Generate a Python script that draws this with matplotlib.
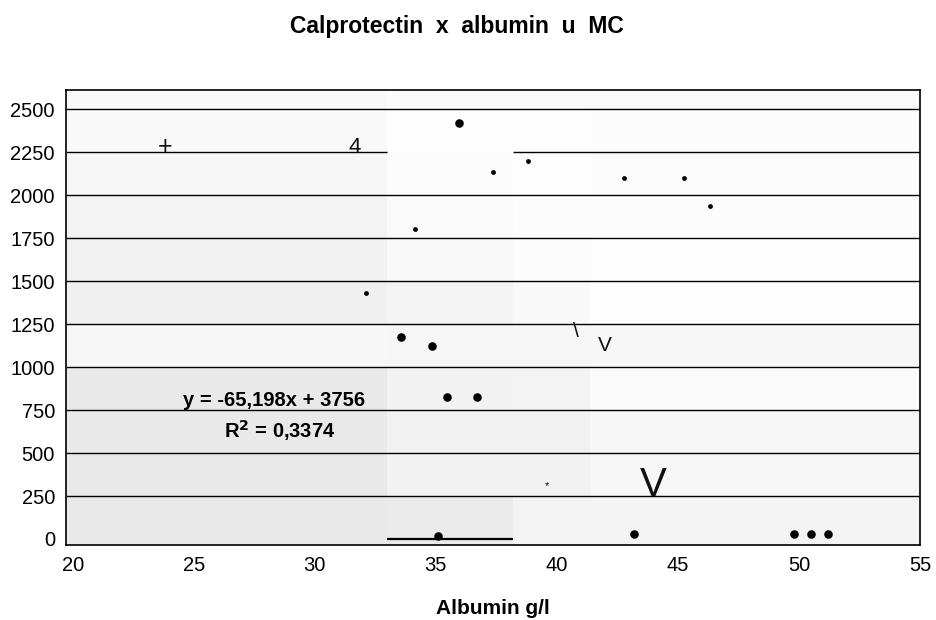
import numpy as np
import matplotlib
matplotlib.use('Agg')
import matplotlib.pyplot as plt

plt.rcParams['font.family'] = ['Liberation Sans', 'DejaVu Sans']

# ============= data ===============================================
# albumin (g/l) vs calprotectin, larger markers
big_x = [35.95, 33.57, 34.86, 35.47, 36.69, 35.07, 43.18, 49.81, 50.50, 51.19]
big_y = [2420, 1177, 1121, 824, 824, 20, 30, 30, 30, 30]
# smaller markers
small_x = [38.80, 37.35, 42.79, 45.26, 46.32, 34.15, 32.10]
small_y = [2197, 2133, 2098, 2098, 1935, 1803, 1431]

# stray glyphs that show up in the original export
annot_text = ['+', '4', '\\', 'V', 'V', '*']
annot_x = [23.83, 31.65, 40.79, 42.0, 43.97, 39.57]
annot_y = [2279, 2279, 1206, 1123, 314, 310]
annot_size = [18, 16, 15, 15, 29, 8]

equation = 'y = -65,198x + 3756'
r_squared = 'R$^{\\mathbf{2}}$ = 0,3374'

x_ticks = [20, 25, 30, 35, 40, 45, 50, 55]
y_ticks = [0, 250, 500, 750, 1000, 1250, 1500, 1750, 2000, 2250, 2500]

# background shading, banded by gridline and by column
col_edges = [19.72, 32.97, 38.2, 41.36, 55]
row_edges = [-35, 250, 500, 750, 1000, 1250, 1500, 1750, 2000, 2250, 2500, 2612]
shade = np.array([
    [0.912, 0.915, 0.953, 0.957],
    [0.912, 0.949, 0.949, 0.965],
    [0.912, 0.945, 0.945, 0.965],
    [0.912, 0.949, 0.953, 0.980],
    [0.965, 0.962, 0.962, 0.965],
    [0.940, 0.957, 0.976, 0.992],
    [0.945, 0.976, 0.988, 0.992],
    [0.953, 0.980, 0.988, 0.988],
    [0.965, 0.988, 0.992, 0.988],
    [0.976, 0.992, 0.992, 0.988],
    [0.976, 0.984, 0.984, 0.980],
])

fig = plt.figure(figsize=(9.36, 6.2), dpi=100)
ax = fig.add_axes([66 / 936, 75 / 620, 854 / 936, 455 / 620])

ax.pcolormesh(col_edges, row_edges, shade, cmap='gray', vmin=0, vmax=1,
              shading='flat', zorder=0)

# gridlines (the 2250 one has a gap, the 0 one is only a stub)
for yv in y_ticks:
    if yv == 0:
        ax.hlines(yv, col_edges[1], col_edges[2], color='black', lw=1.6, zorder=1)
    elif yv == 2250:
        ax.hlines(yv, col_edges[0], col_edges[1], color='black', lw=1.0, zorder=1)
        ax.hlines(yv, col_edges[2], col_edges[4], color='black', lw=1.0, zorder=1)
    else:
        ax.hlines(yv, col_edges[0], col_edges[4], color='black', lw=1.0, zorder=1)

ax.scatter(big_x, big_y, s=38, color='black', zorder=3, linewidths=0)
ax.scatter(small_x, small_y, s=12, color='black', zorder=3, linewidths=0)

for t, xv, yv, fs in zip(annot_text, annot_x, annot_y, annot_size):
    ax.text(xv, yv, t, fontsize=fs, ha='center', va='center', color='#111111', zorder=2)

ax.text(28.3, 806, equation, fontsize=14.5, fontweight='bold', ha='center', va='center')
ax.text(28.55, 630, r_squared, fontsize=14.5, fontweight='bold', ha='center', va='center')

ax.set_xlim(col_edges[0], col_edges[-1])
ax.set_ylim(row_edges[0], row_edges[-1])
ax.set_xticks(x_ticks)
ax.set_yticks(y_ticks)
ax.tick_params(length=0, labelsize=14.5, pad=8)
ax.tick_params(axis='y', pad=8)
for sp in ax.spines.values():
    sp.set_linewidth(1.2)
    sp.set_color('black')

ax.set_xlabel('Albumin g/l', fontsize=15, fontweight='bold', labelpad=17)
fig.suptitle('Calprotectin  x  albumin  u  MC', fontsize=16.5, fontweight='bold',
             x=0.488, y=0.975)

plt.savefig('out.png', dpi=100)
